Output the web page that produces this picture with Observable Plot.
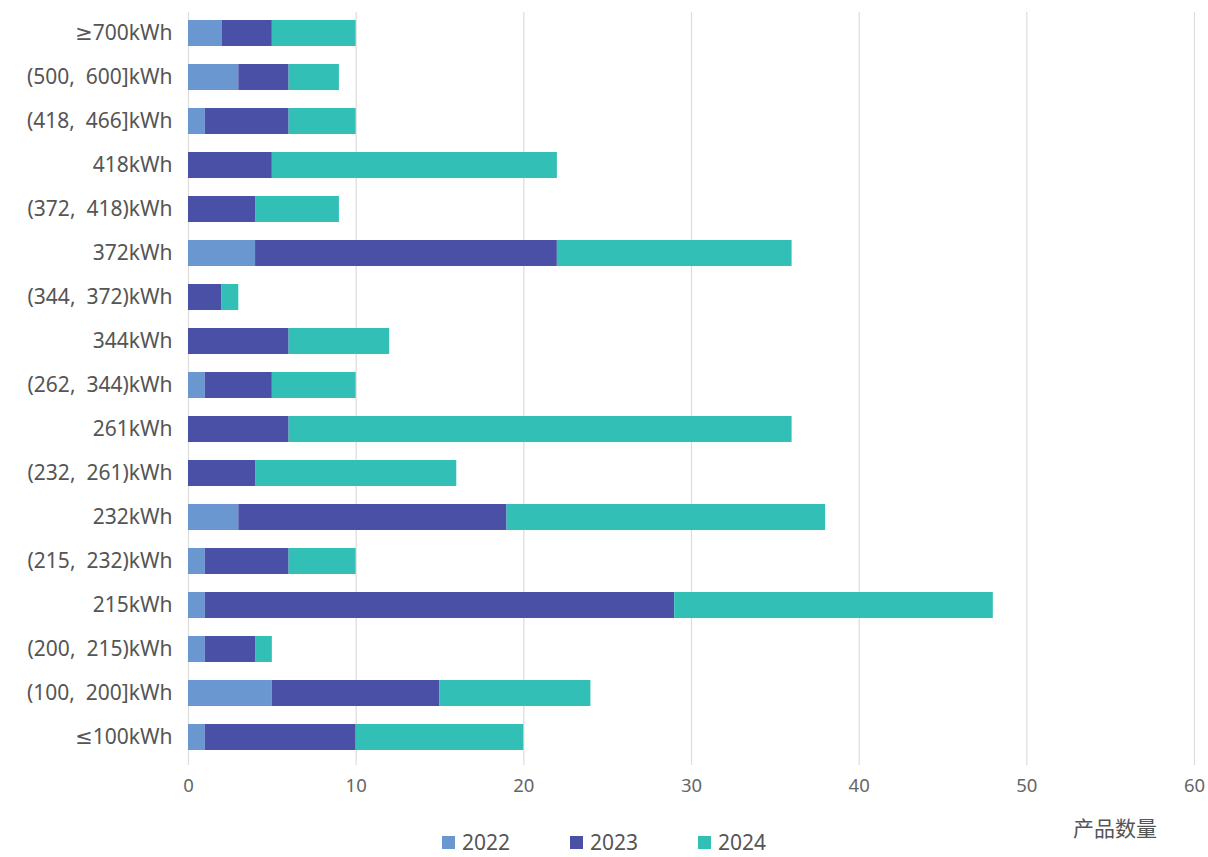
<!DOCTYPE html>
<html>
<head>
<meta charset="utf-8">
<script src="https://cdn.jsdelivr.net/npm/d3@7"></script>
<script src="https://cdn.jsdelivr.net/npm/@observablehq/plot@0.6"></script>
<style>
  body { margin: 0; background: #fff; font-family: "Noto Sans", "DejaVu Sans", "Noto Sans CJK SC", sans-serif; }
  #wrap { position: relative; width: 1208px; height: 857px; overflow: hidden; }
  #xlabel { position: absolute; left: 1073px; top: 815px; font-size: 21px; line-height: 24px; color: #555; font-family: "Noto Sans CJK SC", sans-serif; }
  #legend { position: absolute; left: 0; width: 1208px; top: 831px; display: flex; justify-content: center; font-size: 21px; line-height: 22px; color: #555; }
  #legend .item { display: flex; align-items: center; margin: 0 30px; }
  #legend .sw { width: 13px; height: 13px; margin-right: 7px; }
</style>
</head>
<body>
<div id="wrap">
  <div id="chart"></div>
  <div id="xlabel">产品数量</div>
  <div id="legend"></div>
</div>
<script>
const categories = ["≥700kWh", "(500,  600]kWh", "(418,  466]kWh", "418kWh", "(372,  418)kWh", "372kWh",
  "(344,  372)kWh", "344kWh", "(262,  344)kWh", "261kWh", "(232,  261)kWh", "232kWh",
  "(215,  232)kWh", "215kWh", "(200,  215)kWh", "(100,  200]kWh", "≤100kWh"];
const years = ["2022", "2023", "2024"];
const colors = ["#6b97d1", "#4a50a6", "#31bfb6"];
const v2022 = [2, 3, 1, 0, 0, 4, 0, 0, 1, 0, 0, 3, 1, 1, 1, 5, 1];
const v2023 = [3, 3, 5, 5, 4, 18, 2, 6, 4, 6, 4, 16, 5, 28, 3, 10, 9];
const v2024 = [5, 3, 4, 17, 5, 14, 1, 6, 5, 30, 12, 19, 4, 19, 1, 9, 10];
const xTicks = [0, 10, 20, 30, 40, 50, 60];

const series = [v2022, v2023, v2024];
const data = [];
years.forEach((yr, i) => categories.forEach((c, j) => data.push({cat: c, year: yr, value: series[i][j]})));

const chart = Plot.plot({
  width: 1208,
  height: 800,
  marginLeft: 188,
  marginRight: 14,
  marginTop: 12,
  marginBottom: 35,
  style: {fontFamily: '"Noto Sans", "DejaVu Sans", "Noto Sans CJK SC", sans-serif', background: "#fff"},
  x: {domain: [0, 60], ticks: xTicks},
  y: {domain: categories, range: [12, 758], paddingInner: 0.4, paddingOuter: 0.1},
  color: {domain: years, range: colors},
  marks: [
    Plot.gridX(xTicks, {stroke: "#dcdcdc", strokeOpacity: 1, strokeWidth: 1.2}),
    Plot.barX(data, {x: "value", y: "cat", fill: "year", order: years}),
    Plot.axisX(xTicks, {tickSize: 0, tickPadding: 13, fontSize: 18.5, fill: "#666", label: null}),
    Plot.axisY({tickSize: 0, tickPadding: 16, fontSize: 21, fill: "#555", label: null})
  ]
});
document.getElementById("chart").appendChild(chart);

const legend = document.getElementById("legend");
years.forEach((yr, i) => {
  const it = document.createElement("div");
  it.className = "item";
  it.innerHTML = `<span class="sw" style="background:${colors[i]}"></span><span>${yr}</span>`;
  legend.appendChild(it);
});
</script>
</body>
</html>
